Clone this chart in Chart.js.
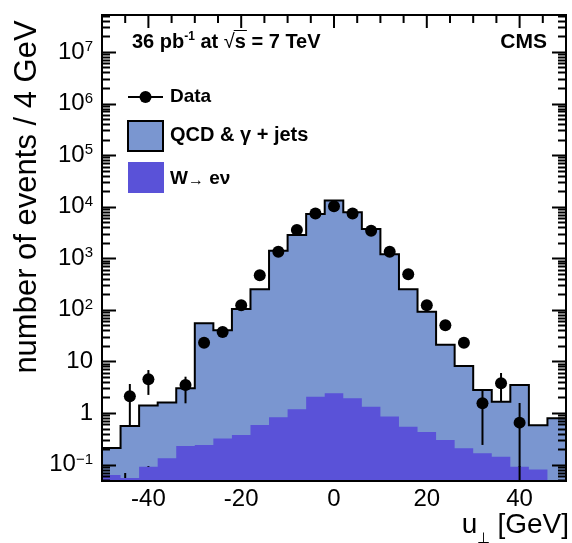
<!DOCTYPE html>
<html>
<head>
<meta charset="utf-8">
<script src="https://cdn.jsdelivr.net/npm/chart.js@4/dist/chart.umd.min.js"></script>
<style>
  html, body { margin: 0; padding: 0; background: #fff; }
  canvas { display: block; }
</style>
</head>
<body>
<canvas id="uperpChart" width="572" height="543"></canvas>
<script>
// bin centres of the 4 GeV histogram
const binCenters = [-48, -44, -40, -36, -32, -28, -24, -20, -16, -12, -8, -4, 0, 4, 8, 12, 16, 20, 24, 28, 32, 36, 40, 44, 48];
const binWidth = 4;

// top of the stacked simulation (QCD & gamma + jets drawn on W -> e nu)
const qcdStack = [0.21, 0.56, 1.4, 1.6, 3.0, 55, 40, 104, 250, 1390, 2830, 7240, 13200, 7800, 3690, 1200, 250, 92, 21, 8.1, 2.8, 1.66, 3.5, 0.58, 0.79];
// W -> e nu contribution
const wenu = [0.063, 0.055, 0.091, 0.133, 0.23, 0.24, 0.32, 0.375, 0.585, 0.825, 1.18, 2.07, 2.4, 1.93, 1.32, 0.85, 0.54, 0.43, 0.30, 0.206, 0.166, 0.142, 0.091, 0.08, 0.04];

// data points
const dataX = [-44, -40, -32, -28, -24, -20, -16, -12, -8, -4, 0, 4, 8, 12, 16, 20, 24, 28, 32, 36, 40];
const dataY = [2.1, 4.5, 3.5, 23, 37, 123, 470, 1330, 3520, 7400, 10200, 7400, 3400, 1330, 490, 123, 50, 23, 1.54, 3.76, 0.65];
const errLow = [0.58, 2.24, 1.54, null, null, null, null, null, null, null, null, null, null, null, null, null, null, null, 0.24, 1.66, 0.01];
const errHigh = [3.65, 6.8, 5.05, null, null, null, null, null, null, null, null, null, null, null, null, null, null, null, 2.79, 5.96, 1.56];

// axis labels
const xTickLabels = [-40, -20, 0, 20, 40];
const yTickPowers = [-1, 0, 1, 2, 3, 4, 5, 6, 7];

const qcdColor = '#7a96d0';
const wColor = '#5a52d8';
const FONT = "'Liberation Sans', Arial, sans-serif";

function histPoints(values) {
    const pts = [];
    binCenters.forEach((c, i) => {
        pts.push({ x: c - binWidth / 2, y: values[i] });
        pts.push({ x: c + binWidth / 2, y: values[i] });
    });
    return pts;
}

const decor = {
    id: 'decor',
    afterDatasetDraw(chart, args) {
        // bottom ticks sit under the W fill, like in the original
        if (args.index !== 2) return;
        const ctx = chart.ctx, a = chart.chartArea, xs = chart.scales.x;
        ctx.save();
        ctx.strokeStyle = '#000';
        ctx.lineWidth = 2;
        for (let v = -45; v <= 45; v += 5) {
            const px = xs.getPixelForValue(v);
            const len = v % 20 === 0 ? 15 : 8;
            ctx.beginPath();
            ctx.moveTo(px, a.bottom);
            ctx.lineTo(px, a.bottom - len);
            ctx.stroke();
        }
        ctx.restore();
    },
    afterDatasetsDraw(chart) {
        const ctx = chart.ctx, a = chart.chartArea;
        const xs = chart.scales.x, ys = chart.scales.y;
        ctx.save();
        ctx.beginPath();
        ctx.rect(a.left, a.top, a.right - a.left, a.bottom - a.top);
        ctx.clip();
        ctx.strokeStyle = '#000';
        ctx.lineWidth = 2;
        dataX.forEach((x, i) => {
            if (errLow[i] === null) return;
            const px = xs.getPixelForValue(x);
            ctx.beginPath();
            ctx.moveTo(px, ys.getPixelForValue(errHigh[i]));
            ctx.lineTo(px, Math.min(ys.getPixelForValue(errLow[i]), a.bottom));
            ctx.stroke();
        });
        ctx.restore();
    },
    afterDraw(chart) {
        const ctx = chart.ctx, a = chart.chartArea;
        const xs = chart.scales.x, ys = chart.scales.y;
        ctx.save();
        ctx.strokeStyle = '#000';
        ctx.fillStyle = '#000';

        // y ticks, left and right, pointing inward
        ctx.lineWidth = 2;
        for (let n = -2; n <= 7; n++) {
            for (let k = 1; k <= 9; k++) {
                const v = k * Math.pow(10, n);
                if (v < ys.min || v > ys.max) continue;
                const py = Math.round(ys.getPixelForValue(v)) + 0.5;
                const len = k === 1 ? 14 : 8;
                ctx.beginPath();
                ctx.moveTo(a.left, py); ctx.lineTo(a.left + len, py);
                ctx.moveTo(a.right, py); ctx.lineTo(a.right - len, py);
                ctx.stroke();
            }
        }
        // x ticks on top
        for (let v = -45; v <= 45; v += 5) {
            const px = xs.getPixelForValue(v);
            const len = v % 20 === 0 ? 13 : 8;
            ctx.beginPath();
            ctx.moveTo(px, a.top); ctx.lineTo(px, a.top + len);
            ctx.stroke();
        }
        // frame
        ctx.strokeRect(a.left, a.top, a.right - a.left, a.bottom - a.top);

        // y tick labels
        yTickPowers.forEach(p => {
            const py = ys.getPixelForValue(Math.pow(10, p));
            const right = 93;
            ctx.textBaseline = 'middle';
            ctx.textAlign = 'left';
            if (p === 0 || p === 1) {
                ctx.font = '24px ' + FONT;
                const s = p === 0 ? '1' : '10';
                ctx.fillText(s, right - ctx.measureText(s).width, py);
            } else {
                const sup = String(p).replace('-', '\u2212');
                ctx.font = '15px ' + FONT;
                const ws = ctx.measureText(sup).width;
                ctx.font = '24px ' + FONT;
                const wb = ctx.measureText('10').width;
                ctx.fillText('10', right - ws - wb, py);
                ctx.font = '15px ' + FONT;
                ctx.textBaseline = 'alphabetic';
                ctx.fillText(sup, right - ws, py - 1);
            }
        });

        // x tick labels
        ctx.font = '24px ' + FONT;
        ctx.textAlign = 'center';
        ctx.textBaseline = 'middle';
        xTickLabels.forEach(v => {
            ctx.fillText(String(v), xs.getPixelForValue(v), 499);
        });

        // x axis title: u_perp [GeV]
        ctx.font = '28px ' + FONT;
        ctx.textBaseline = 'alphabetic';
        ctx.textAlign = 'right';
        ctx.fillText('[GeV]', 569, 533);
        const wG = ctx.measureText('[GeV]').width;
        ctx.fillText('u', 569 - wG - 20, 533);
        ctx.font = '15px ' + FONT;
        ctx.textAlign = 'center';
        ctx.fillText('\u22a5', 569 - wG - 14, 543);

        // y axis title
        ctx.save();
        ctx.translate(36, 197);
        ctx.rotate(-Math.PI / 2);
        ctx.font = '31px ' + FONT;
        ctx.textAlign = 'center';
        ctx.textBaseline = 'alphabetic';
        ctx.fillText('number of events / 4 GeV', 0, 0);
        ctx.restore();

        // header text
        ctx.textAlign = 'left';
        ctx.textBaseline = 'alphabetic';
        let x = 132;
        const base = 48;
        ctx.font = 'bold 20px ' + FONT;
        ctx.fillText('36 pb', x, base);
        x += ctx.measureText('36 pb').width;
        ctx.font = 'bold 12px ' + FONT;
        ctx.fillText('-1', x, base - 8);
        x += ctx.measureText('-1').width;
        ctx.font = 'bold 20px ' + FONT;
        ctx.fillText(' at ', x, base);
        x += ctx.measureText(' at ').width;
        ctx.font = '20px ' + FONT;
        ctx.fillText('\u221a', x, base);
        const wr = ctx.measureText('\u221a').width;
        ctx.font = 'bold 20px ' + FONT;
        const wsq = ctx.measureText('s').width;
        ctx.fillText('s', x + wr, base);
        ctx.lineWidth = 1;
        ctx.beginPath();
        ctx.moveTo(x + wr - 1, base - 17.5);
        ctx.lineTo(x + wr + wsq + 1, base - 17.5);
        ctx.stroke();
        x += wr + wsq;
        ctx.fillText(' = 7 TeV', x, base);
        ctx.textAlign = 'right';
        ctx.font = 'bold 21px ' + FONT;
        ctx.fillText('CMS', 547, base);

        // legend
        ctx.textAlign = 'left';
        ctx.textBaseline = 'middle';
        ctx.lineWidth = 2;
        ctx.beginPath();
        ctx.moveTo(128, 97); ctx.lineTo(163, 97);
        ctx.stroke();
        ctx.beginPath();
        ctx.arc(145.5, 97, 6, 0, Math.PI * 2);
        ctx.fill();
        ctx.font = 'bold 19px ' + FONT;
        ctx.fillText('Data', 170, 97);

        ctx.fillStyle = qcdColor;
        ctx.fillRect(128, 121, 35, 30);
        ctx.strokeRect(128, 121, 35, 30);
        ctx.fillStyle = '#000';
        ctx.font = 'bold 20px ' + FONT;
        ctx.fillText('QCD & \u03b3 + jets', 170, 135);

        ctx.fillStyle = wColor;
        ctx.fillRect(128, 162, 36, 31);
        ctx.fillStyle = '#000';
        ctx.font = 'bold 19px ' + FONT;
        ctx.fillText('W', 170, 179);
        const wW = ctx.measureText('W').width;
        ctx.font = 'bold 16px ' + FONT;
        ctx.fillText('\u2192', 170 + wW, 181);
        const wA = ctx.measureText('\u2192').width;
        ctx.font = 'bold 19px ' + FONT;
        ctx.fillText(' e\u03bd', 170 + wW + wA, 179);

        ctx.restore();
    }
};

const ctx = document.getElementById('uperpChart').getContext('2d');

const config = {
    type: 'line',
    data: {
        datasets: [
            {
                label: 'Data',
                data: dataX.map((x, i) => ({ x: x, y: dataY[i] })),
                showLine: false,
                pointRadius: 6,
                pointBackgroundColor: '#000',
                pointBorderWidth: 0,
                order: 0
            },
            {
                label: 'W\u2192 e\u03bd',
                data: histPoints(wenu),
                borderWidth: 0,
                borderColor: wColor,
                backgroundColor: wColor,
                fill: 'start',
                pointRadius: 0,
                order: 1
            },
            {
                label: 'QCD & \u03b3 + jets',
                data: histPoints(qcdStack),
                borderWidth: 2,
                borderColor: '#000',
                backgroundColor: qcdColor,
                fill: 'start',
                pointRadius: 0,
                order: 2
            }
        ]
    },
    options: {
        responsive: false,
        animation: false,
        devicePixelRatio: 1,
        layout: {
            padding: { left: 102, right: 4, top: 15, bottom: 62 }
        },
        scales: {
            x: {
                type: 'linear',
                min: -50,
                max: 50,
                display: false
            },
            y: {
                type: 'logarithmic',
                min: 0.048,
                max: 5.2e7,
                display: false
            }
        },
        plugins: {
            legend: { display: false },
            tooltip: { enabled: false }
        }
    },
    plugins: [decor]
};

const uperpChart = new Chart(ctx, config);
</script>
</body>
</html>
